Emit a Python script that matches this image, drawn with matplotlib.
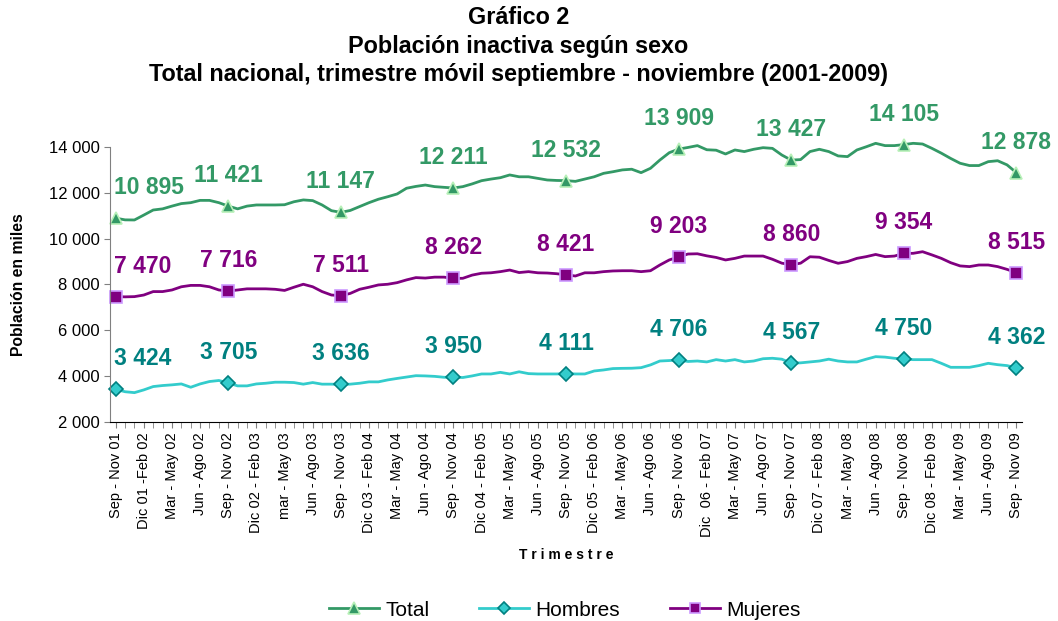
import numpy as np
import matplotlib
matplotlib.use("Agg")
import matplotlib.pyplot as plt

plt.rcParams["font.family"] = ["Liberation Sans", "DejaVu Sans"]

# Rolling quarters, Sep-Nov 01 ... Sep-Nov 09 (monthly steps)
tick_labels = [
    "Sep - Nov 01", "Dic 01 -Feb 02", "Mar - May 02", "Jun - Ago 02",
    "Sep - Nov 02", "Dic 02 - Feb 03", "mar - May 03", "Jun - Ago 03",
    "Sep - Nov 03", "Dic 03 - Feb 04", "Mar - May 04", "Jun - Ago 04",
    "Sep - Nov 04", "Dic 04 - Feb 05", "Mar - May 05", "Jun - Ago 05",
    "Sep - Nov 05", "Dic 05 - Feb 06", "Mar - May 06", "Jun - Ago 06",
    "Sep - Nov 06", "Dic  06 - Feb 07", "Mar - May 07", "Jun - Ago 07",
    "Sep - Nov 07", "Dic 07 - Feb 08", "Mar - May 08", "Jun - Ago 08",
    "Sep - Nov 08", "Dic 08 - Feb 09", "Mar - May 09", "Jun - Ago 09",
    "Sep - Nov 09",
]

total = [
    10895, 10820, 10815, 11030, 11250, 11300, 11420, 11530, 11570, 11670,
    11670, 11570, 11421, 11300, 11420, 11470, 11470, 11470, 11480, 11610,
    11690, 11660, 11470, 11220, 11147, 11230, 11400, 11570, 11720, 11830,
    11950, 12200, 12280, 12340, 12270, 12240, 12211, 12270, 12390, 12530,
    12600, 12660, 12780, 12700, 12700, 12630, 12560, 12540, 12532, 12500,
    12600, 12700, 12850, 12920, 13000, 13030, 12880, 13070, 13430, 13750,
    13909, 13980, 14060, 13880, 13860, 13695, 13870, 13800, 13900, 13970,
    13940, 13650, 13427, 13450, 13800, 13900, 13800, 13610, 13580, 13870,
    14010, 14160, 14060, 14060, 14105, 14160, 14130, 13940, 13730, 13500,
    13290, 13190, 13190, 13360, 13400, 13220, 12878,
]

hombres = [
    3424, 3320, 3280, 3400, 3545, 3590, 3620, 3660, 3515, 3660,
    3765, 3810, 3705, 3575, 3575, 3660, 3690, 3735, 3735, 3720,
    3650, 3720, 3650, 3650, 3636, 3650, 3690, 3750, 3750, 3835,
    3900, 3960, 4020, 4010, 3990, 3950, 3950, 3940, 4010, 4095,
    4095, 4165, 4095, 4190, 4110, 4095, 4095, 4095, 4111, 4095,
    4095, 4225, 4270, 4330, 4340, 4345, 4370, 4490, 4660, 4680,
    4706, 4640, 4660, 4620, 4720, 4660, 4720, 4620, 4660, 4760,
    4780, 4740, 4567, 4580, 4620, 4660, 4740, 4660, 4620, 4620,
    4740, 4850, 4830, 4780, 4750, 4720, 4720, 4720, 4560, 4385,
    4385, 4385, 4460, 4560, 4500, 4460, 4362,
]

mujeres = [
    7470, 7460, 7470, 7540, 7690, 7690, 7760, 7900, 7960, 7960,
    7900, 7760, 7716, 7760, 7810, 7810, 7810, 7790, 7740, 7880,
    8010, 7900, 7690, 7540, 7511, 7610, 7790, 7880, 7980, 8010,
    8080, 8200, 8300, 8280, 8320, 8320, 8262, 8270, 8410, 8490,
    8510, 8560, 8630, 8520, 8560, 8510, 8500, 8470, 8421, 8370,
    8510, 8510, 8560, 8590, 8600, 8600, 8560, 8600, 8850, 9070,
    9203, 9330, 9340, 9250, 9180, 9070, 9140, 9240, 9240, 9240,
    9100, 8930, 8860, 8930, 9210, 9190, 9050, 8925, 9000, 9140,
    9215, 9310, 9215, 9240, 9354, 9360, 9430, 9290, 9140, 8950,
    8810, 8780, 8850, 8850, 8780, 8660, 8515,
]

x = np.arange(len(total))
marks = list(range(0, len(total), 12))   # Sep-Nov of each year


def miles(v):
    return f"{v:,.0f}".replace(",", " ")


fig = plt.figure(figsize=(10.58, 6.21), dpi=100)
ax = fig.add_axes([0.104, 0.3205, 0.862, 0.4428])

series = [
    ("Total", total, "#339966", "^", "#339966", "#b8f0b8", "#339966", 9),
    ("Hombres", hombres, "#33CCCC", "D", "#33CCCC", "#008080", "#008080", 7),
    ("Mujeres", mujeres, "#800080", "s", "#800080", "#CC99FF", "#800080", 8),
]

for name, vals, col, mk, mfc, mec, tcol, ms in series:
    ax.plot(x, vals, color=col, lw=2.0, marker=mk, markevery=marks,
            mfc=mfc, mec=mec, mew=1.2, ms=ms, label=name, clip_on=False)
    for k in marks:
        ha, dx = "center", 0
        if k == 0:
            ha, dx = "left", -1
        ax.annotate(miles(vals[k]), (x[k], vals[k]), xytext=(dx, 22),
                    textcoords="offset points", ha=ha, va="center",
                    fontsize=16.5, fontweight="bold", color=tcol,
                    annotation_clip=False)

ax.set_xlim(-0.6, len(total) - 0.4)
ax.set_ylim(2000, 14000)
yt = np.arange(2000, 14001, 2000)
ax.set_yticks(yt)
ax.set_yticklabels([miles(v) for v in yt], fontsize=12)
ax.set_xticks(x[::3])
ax.set_xticklabels(tick_labels, rotation=90, fontsize=10.5)
ax.set_xticks(x, minor=True)
ax.tick_params(axis="x", which="both", direction="out", length=4, color="#808080")
ax.tick_params(axis="y", direction="out", length=4, color="#808080")

for s in ["top", "right"]:
    ax.spines[s].set_visible(False)
ax.spines["left"].set_color("#808080")
ax.spines["bottom"].set_color("black")

ax.set_ylabel("Población en miles", fontsize=11.3, fontweight="bold")
ax.yaxis.set_label_coords(-0.092, 0.5)
ax.set_xlabel("T r i m e s t r e", fontsize=10, fontweight="bold", labelpad=8)

title_lines = [
    "Gráfico 2",
    "Población inactiva según sexo",
    "Total nacional, trimestre móvil septiembre - noviembre (2001-2009)",
]
for i, line in enumerate(title_lines):
    fig.text(0.49, 1 - (18 + 28 * i) / 621, line, ha="center", va="center",
             fontsize=16.8, fontweight="bold")

handles, labels = ax.get_legend_handles_labels()
fig.legend(handles, labels, loc="center", bbox_to_anchor=(565 / 1058, 1 - 610 / 621),
           ncol=3, frameon=False, fontsize=15, handlelength=2.4,
           handletextpad=0.3, columnspacing=2.4, markerscale=0.9)

fig.savefig("out.png", dpi=100)
